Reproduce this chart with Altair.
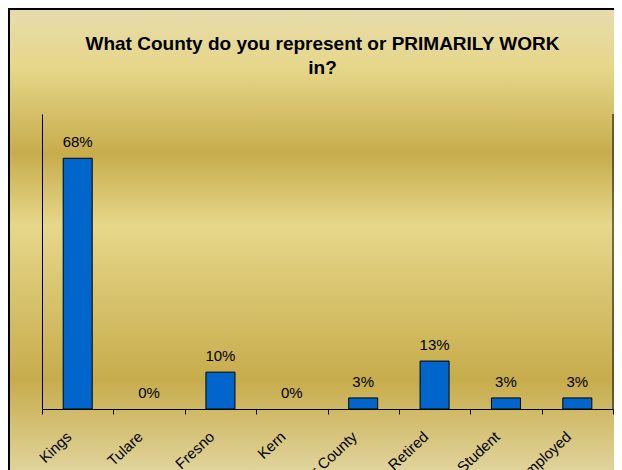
import altair as alt
import pandas as pd

categories = ["Kings", "Tulare", "Fresno", "Kern", "Other County", "Retired", "Student", "Unemployed"]
shares = [0.68, 0.00, 0.10, 0.00, 0.03, 0.13, 0.03, 0.03]
labels = ["68%", "0%", "10%", "0%", "3%", "13%", "3%", "3%"]
title_lines = ["What County do you represent or PRIMARILY WORK", "in?"]

df = pd.DataFrame({"cat": categories, "share": shares, "label": labels})

W, H = 571, 295
PAD = {"left": 34, "top": 106, "right": 1, "bottom": 79}
FONT = "Liberation Sans"

gradient = {
    "gradient": "linear", "x1": 0, "y1": 0, "x2": 0, "y2": 1,
    "stops": [
        {"offset": 0.0, "color": "#E6DCAC"},
        {"offset": 0.12, "color": "#E6D78A"},
        {"offset": 0.30, "color": "#C7AC4C"},
        {"offset": 0.45, "color": "#E6D78A"},
        {"offset": 0.77, "color": "#C7AC4C"},
        {"offset": 1.0, "color": "#E6DCAC"},
    ],
}

# chart-area background; right and bottom edges run past the page like the reference
bg = alt.Chart(pd.DataFrame({"a": [0]})).mark_rect(
    fill=gradient, stroke="#000000", strokeWidth=2
).encode(
    x=alt.value(-PAD["left"] + 1), x2=alt.value(W + 20),
    y=alt.value(-PAD["top"] + 1), y2=alt.value(H + PAD["bottom"] + 2),
)

x_scale = alt.Scale(domain=categories, paddingInner=0, paddingOuter=0)
x_enc = alt.X(
    "cat:N", title=None, scale=x_scale,
    axis=alt.Axis(
        tickBand="extent", tickSize=5, tickColor="#000000", domainColor="#000000",
        labelAngle=-43, labelAlign="right", labelBaseline="middle",
        labelPadding=20, labelOffset=-9, labelFont=FONT, labelFontSize=15,
        labelColor="#000000", zindex=1, grid=False,
    ),
)
y_enc = alt.Y(
    "share:Q", title=None, scale=alt.Scale(domain=[0, 0.8], nice=False),
    axis=alt.Axis(labels=False, ticks=False, grid=False, domainColor="#000000", zindex=1),
)

bars = alt.Chart(df).transform_filter("datum.share > 0").mark_bar(
    size=29, color="#0066CC", stroke="#000000", strokeWidth=1
).encode(x=x_enc, y=y_enc)

text = alt.Chart(df).mark_text(
    dy=-11, baseline="alphabetic", font=FONT, fontSize=15, color="#000000"
).encode(x=alt.X("cat:N", scale=x_scale), y="share:Q", text="label:N")

right_line = alt.Chart(pd.DataFrame({"a": [0]})).mark_rule(color="#000000").encode(
    x=alt.value(W), y=alt.value(0), y2=alt.value(H)
)

chart = alt.layer(bg, bars, text, right_line).properties(
    width=W, height=H,
    autosize=alt.AutoSizeParams(type="none"),
    padding=PAD,
    background="white",
    title=alt.TitleParams(
        text=title_lines, font=FONT, fontSize=19, fontWeight="bold", color="#000000",
        lineHeight=24, anchor="middle", frame="group", dx=-5, offset=-70, zindex=1,
    ),
).configure_view(stroke=None)

chart.save("out.html", embed_options={"renderer": "svg", "actions": False})
